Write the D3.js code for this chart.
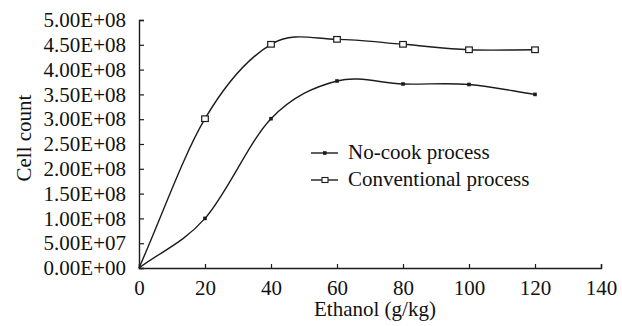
<!DOCTYPE html>
<html><head><meta charset="utf-8">
<script src="https://cdn.jsdelivr.net/npm/d3@7"></script>
<style>
body{margin:0;background:#fff}
svg{display:block}
</style>
</head><body><svg id="c" width="622" height="326"></svg>
<script>
const ethanol = [0, 20, 40, 60, 80, 100, 120];
const noCook = [0, 1.0e8, 3.01e8, 3.77e8, 3.71e8, 3.70e8, 3.50e8];
const conventional = [0, 3.01e8, 4.51e8, 4.61e8, 4.51e8, 4.40e8, 4.40e8];
const seriesNames = ["No-cook process", "Conventional process"];
const xTicks = [0, 20, 40, 60, 80, 100, 120, 140];
const yTicks = [0, 5e7, 1e8, 1.5e8, 2e8, 2.5e8, 3e8, 3.5e8, 4e8, 4.5e8, 5e8];
const yTickLabels = ["0.00E+00","5.00E+07","1.00E+08","1.50E+08","2.00E+08","2.50E+08","3.00E+08","3.50E+08","4.00E+08","4.50E+08","5.00E+08"];
const xTitle = "Ethanol (g/kg)";
const yTitle = "Cell count";

const W = 622, H = 326;
const m = {left: 139, right: 21, top: 20, bottom: 58};
const svg = d3.select("#c");
const x = d3.scaleLinear().domain([0, 140]).range([m.left, W - m.right]);
const y = d3.scaleLinear().domain([0, 5e8]).range([H - m.bottom, m.top]);
const ink = "#1c1c1c";
const FONT = '"Liberation Serif","Times New Roman",serif';
const FS = 21;

// Smooth curve (Catmull-Rom with reflected end tangents, like spreadsheet smoothing)
function smoothPath(pts) {
  const p = d3.path();
  const n = pts.length;
  const get = i => {
    if (i < 0) return [2*pts[0][0]-pts[1][0], 2*pts[0][1]-pts[1][1]];
    if (i >= n) return [2*pts[n-1][0]-pts[n-2][0], 2*pts[n-1][1]-pts[n-2][1]];
    return pts[i];
  };
  p.moveTo(pts[0][0], pts[0][1]);
  for (let i = 0; i < n - 1; i++) {
    const p0 = get(i-1), p1 = get(i), p2 = get(i+1), p3 = get(i+2);
    p.bezierCurveTo(
      p1[0] + (p2[0]-p0[0])/6, p1[1] + (p2[1]-p0[1])/6,
      p2[0] - (p3[0]-p1[0])/6, p2[1] - (p3[1]-p1[1])/6,
      p2[0], p2[1]);
  }
  return p.toString();
}

// Axes (ticks point inward)
const xAxis = d3.axisBottom(x).tickValues(xTicks).tickSizeInner(-4).tickSizeOuter(-4).tickPadding(10).tickFormat(d3.format("d"));
const gx = svg.append("g").attr("transform", `translate(0,${H - m.bottom})`).call(xAxis);
const yAxis = d3.axisLeft(y).tickValues(yTicks).tickSizeInner(-5).tickSizeOuter(-5).tickPadding(13).tickFormat((d,i) => yTickLabels[i]);
const gy = svg.append("g").attr("transform", `translate(${m.left},0)`).call(yAxis);
[gx, gy].forEach(g => {
  g.attr("font-family", FONT).attr("font-size", FS);
  g.select(".domain").attr("stroke", ink).attr("stroke-width", 1.4);
  g.selectAll(".tick line").attr("stroke", ink).attr("stroke-width", 1.2);
  g.selectAll("text").attr("fill", "#111").attr("font-family", FONT).attr("font-size", FS);
});
gx.selectAll(".tick text").attr("dy", "0.71em").attr("y", 12);

// Lines
const series = [
  {name: seriesNames[0], values: noCook, filled: true},
  {name: seriesNames[1], values: conventional, filled: false}
];
series.forEach(s => {
  const pts = ethanol.map((e, i) => [x(e), y(s.values[i])]);
  svg.append("path").attr("d", smoothPath(pts)).attr("fill", "none").attr("stroke", ink).attr("stroke-width", 1.4);
});
// Markers
series.forEach(s => {
  const data = ethanol.map((e, i) => ({e, v: s.values[i]})).filter(d => d.v > 0);
  if (s.filled) {
    svg.selectAll(null).data(data).enter().append("rect")
      .attr("x", d => x(d.e) - 1.8).attr("y", d => y(d.v) - 1.8).attr("width", 3.6).attr("height", 3.6).attr("fill", ink);
  } else {
    svg.selectAll(null).data(data).enter().append("rect")
      .attr("x", d => x(d.e) - 3.3).attr("y", d => y(d.v) - 2.8).attr("width", 6.6).attr("height", 5.6)
      .attr("fill", "#fff").attr("stroke", ink).attr("stroke-width", 1.2);
  }
});

// Legend
const lg = svg.append("g");
series.forEach((s, i) => {
  const ly = 153 + i * 27;
  lg.append("line").attr("x1", 311).attr("x2", 338).attr("y1", ly).attr("y2", ly).attr("stroke", ink).attr("stroke-width", 1.4);
  if (s.filled) lg.append("rect").attr("x", 323).attr("y", ly - 1.8).attr("width", 3.6).attr("height", 3.6).attr("fill", ink);
  else lg.append("rect").attr("x", 322).attr("y", ly - 2.5).attr("width", 6).attr("height", 5).attr("fill", "#fff").attr("stroke", ink).attr("stroke-width", 1.1);
  lg.append("text").attr("x", 348).attr("y", ly + 6).attr("font-family", FONT).attr("font-size", FS).attr("fill", "#111").text(s.name);
});

// Titles
svg.append("text").attr("x", x(70) + 5).attr("y", 316).attr("text-anchor", "middle").attr("font-family", FONT).attr("font-size", FS).attr("fill", "#111").text(xTitle);
svg.append("text").attr("transform", `translate(31,138) rotate(-90)`).attr("text-anchor", "middle").attr("font-family", FONT).attr("font-size", FS).attr("fill", "#111").text(yTitle);
</script>
</body></html>
